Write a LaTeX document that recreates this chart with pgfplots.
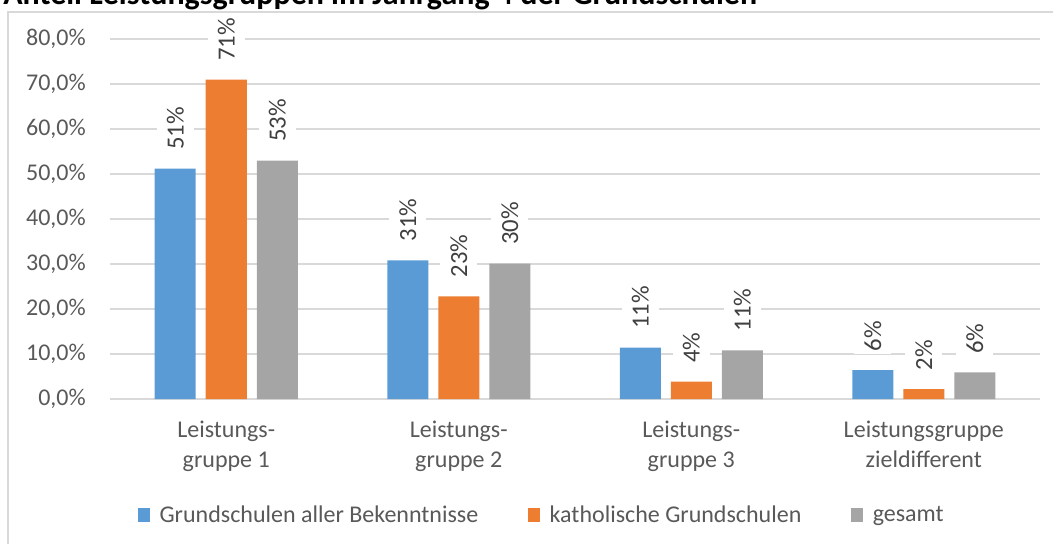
\documentclass[border=0pt]{standalone}
\usepackage{pgfplots}
\pgfplotsset{compat=1.18}
\usepackage{fontspec}
\setmainfont{Carlito}
\definecolor{cblue}{HTML}{5B9BD5}
\definecolor{corange}{HTML}{ED7D31}
\definecolor{cgray}{HTML}{A5A5A5}
\definecolor{gridc}{HTML}{D9D9D9}
\definecolor{tickc}{HTML}{595959}
\definecolor{labc}{HTML}{404040}
\begin{document}
\begin{tikzpicture}
\useasboundingbox (-82.5pt,-108pt) rectangle (707.25pt,299.25pt);
\draw[gridc, line width=1.1pt] (-76.5pt,-120pt) -- (-76.5pt,290.25pt) -- (720pt,290.25pt);
\node[anchor=base west, font=\fontsize{24}{28}\selectfont\bfseries, inner sep=0pt] at (-80.25pt,295.5pt) {Anteil Leistungsgruppen im Jahrgang 4 der Grundschulen};
\begin{axis}[
  at={(0pt,0pt)}, anchor=south west,
  scale only axis, width=697.5pt, height=270pt,
  ybar=7.5pt, bar width=30.75pt,
  xmin=-0.5, xmax=3.5, ymin=0, ymax=80,
  xtick={0,1,2,3},
  xticklabels={{Leistungs-\\gruppe 1},{Leistungs-\\gruppe 2},{Leistungs-\\gruppe 3},{Leistungsgruppe\\zieldifferent}},
  ytick={0,10,...,80},
  yticklabel={\pgfmathprintnumber[fixed,fixed zerofill,precision=1,use comma]{\tick}\%},
  /pgf/number format/assume math mode=true,
  ymajorgrids,
  grid style={gridc, line width=1.1pt},
  axis x line*=bottom, axis y line*=left,
  x axis line style={gridc, line width=1.1pt},
  y axis line style={draw=none},
  major tick length=0pt,
  tick style={draw=none},
  yticklabel style={inner sep=0pt, xshift=-18pt, text=tickc, font=\fontsize{18}{21.75}\selectfont},
  xticklabel style={inner sep=0pt, yshift=-16pt, text=tickc, align=center, font=\fontsize{18}{22.5}\selectfont},
  nodes near coords={\pgfmathprintnumber[fixed,precision=0]{\pgfplotspointmeta}\%},
  every node near coord/.append style={yshift=12pt, rotate=90, anchor=west, fill=white, inner xsep=2pt, minimum height=28pt, text=labc, font=\fontsize{18.5}{21.75}\selectfont},
  legend style={at={(0.4645,-0.322)}, anchor=center, draw=none, legend columns=3,
    font=\fontsize{18}{21.75}\selectfont, text=tickc, inner sep=0pt,
    /tikz/every odd column/.append style={column sep=5pt},
    /tikz/every even column/.append style={column sep=35pt}},
  legend image code/.code={\fill[#1] (0pt,-5pt) rectangle (9.5pt,5pt);},
]
\addplot[fill=cblue, draw=none] coordinates {(0,51.2) (1,30.8) (2,11.4) (3,6.4)};
\addplot[fill=corange, draw=none] coordinates {(0,71.0) (1,22.8) (2,3.85) (3,2.2)};
\addplot[fill=cgray, draw=none] coordinates {(0,53.0) (1,30.1) (2,10.8) (3,5.9)};
\legend{Grundschulen aller Bekenntnisse, katholische Grundschulen, gesamt}
\end{axis}
\end{tikzpicture}
\end{document}
